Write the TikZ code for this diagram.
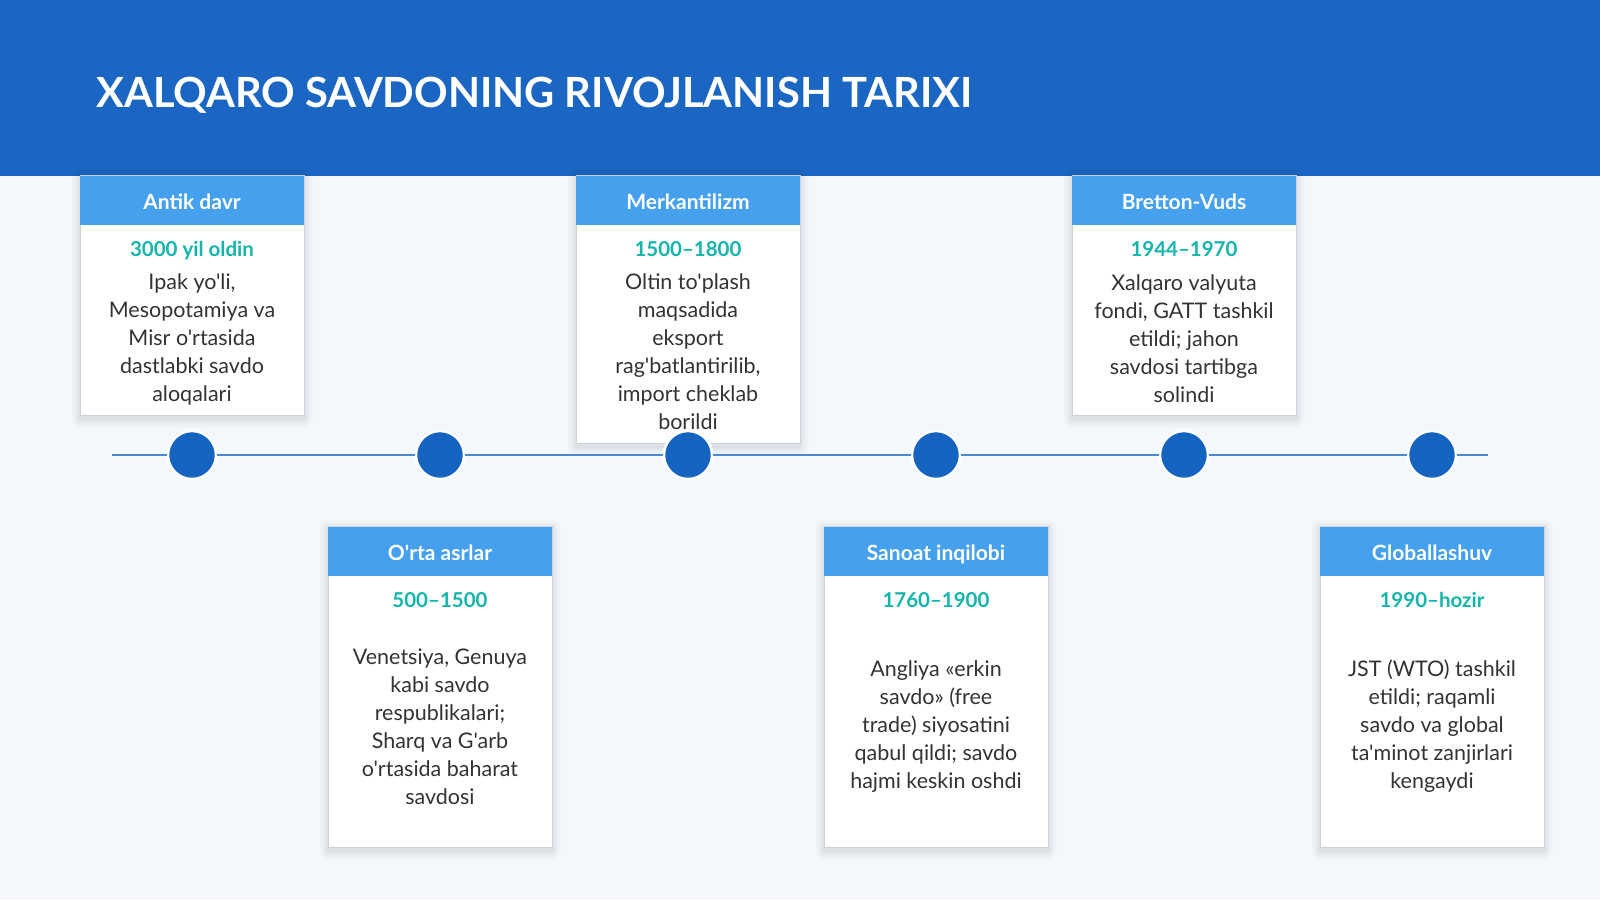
\documentclass[tikz,border=0pt]{standalone}
\usepackage{fontspec}
\setmainfont{Lato}[Ligatures=TeXOff]
\definecolor{bgc}{HTML}{F4F7FC}
\definecolor{bandc}{HTML}{1A66C2}
\definecolor{headc}{HTML}{45A0EE}
\definecolor{datec}{HTML}{14B5AC}
\definecolor{bodyc}{HTML}{333333}
\definecolor{dotc}{HTML}{1565C0}
\definecolor{linec}{HTML}{4A8AD4}
\definecolor{borderc}{HTML}{CDD3DB}
\tikzset{
  cardbox/.style={draw=borderc, line width=1pt, fill=white, minimum width=224pt, inner sep=0pt},
  cardhead/.style={fill=headc, minimum width=224pt, minimum height=49pt, inner sep=0pt, text=white, font=\fontsize{21}{24}\selectfont\bfseries},
  headlbl/.style={inner sep=0pt, text height=15pt, text depth=4pt, text=white, font=\fontsize{21}{24}\selectfont\bfseries},
  datetxt/.style={text=datec, inner sep=0pt, text height=15pt, text depth=4pt, font=\fontsize{20.5}{24}\selectfont\bfseries},
  bodytxt/.style={text=bodyc, inner sep=0pt, align=center, font=\fontsize{21.5}{28}\selectfont},
  tdot/.style={circle, fill=dotc, draw=white, line width=2.5pt, minimum size=48pt, inner sep=0pt},
  tline/.style={draw=linec, line width=2pt},
}
\newcommand\mycard[8]{%
  \foreach \e in {1,3,5,8}{%
    \fill[black, opacity=0.025, rounded corners=\e pt] ({#2-112-\e},{#3+2-\e}) rectangle ({#2+112+\e},{#4+4+\e});
  }
  \node[cardbox, minimum height={#4-#3}] (#1) at (#2,{(#3+#4)/2}) {};
  \node[cardhead] (#1h) at (#2,{#3+24.5}) {};
  \node[headlbl] (#1t) at (#2,{#3+28}) {#5};
  \node[datetxt] (#1d) at (#2,{#3+75.5}) {#6};
  \node[bodytxt] (#1b) at (#2,#8) {#7};
}
\begin{document}
\begin{tikzpicture}[x=1pt,y=-1pt]
\useasboundingbox (0,0) rectangle (1600,900);
\fill[bgc] (0,0) rectangle (1600,900);
\fill[bandc] (0,0) rectangle (1600,176);
\node[anchor=west, inner sep=0pt, text=white, font=\fontsize{41.6}{50}\selectfont\bfseries] (title) at (96,95) {XALQARO SAVDONING RIVOJLANISH TARIXI};

\mycard{c1}{192}{175.5}{415}{Antik davr}{3000 yil oldin}{Ipak yo'li,\\Mesopotamiya va\\Misr o'rtasida\\dastlabki savdo\\aloqalari}{339}
\mycard{c3}{688}{175.5}{443}{Merkantilizm}{1500–1800}{Oltin to'plash\\maqsadida\\eksport\\rag'batlantirilib,\\import cheklab\\borildi}{352}
\mycard{c5}{1184}{175.5}{415}{Bretton-Vuds}{1944–1970}{Xalqaro valyuta\\fondi, GATT tashkil\\etildi; jahon\\savdosi tartibga\\solindi}{339}
\mycard{c2}{440}{526.5}{847}{O'rta asrlar}{500–1500}{Venetsiya, Genuya\\kabi savdo\\respublikalari;\\Sharq va G'arb\\o'rtasida baharat\\savdosi}{726.5}
\mycard{c4}{936}{526.5}{847}{Sanoat inqilobi}{1760–1900}{Angliya «erkin\\savdo» (free\\trade) siyosatini\\qabul qildi; savdo\\hajmi keskin oshdi}{726.5}
\mycard{c6}{1432}{526.5}{847}{Globallashuv}{1990–hozir}{JST (WTO) tashkil\\etildi; raqamli\\savdo va global\\ta'minot zanjirlari\\kengaydi}{726.5}

\coordinate (ls) at (112,455);
\coordinate (le) at (1488,455);
\node[tdot] (d1) at (192,455) {};
\node[tdot] (d2) at (440,455) {};
\node[tdot] (d3) at (688,455) {};
\node[tdot] (d4) at (936,455) {};
\node[tdot] (d5) at (1184,455) {};
\node[tdot] (d6) at (1432,455) {};
\draw[tline] (ls) -- (d1) -- (d2) -- (d3) -- (d4) -- (d5) -- (d6) -- (le);
\end{tikzpicture}
\end{document}
